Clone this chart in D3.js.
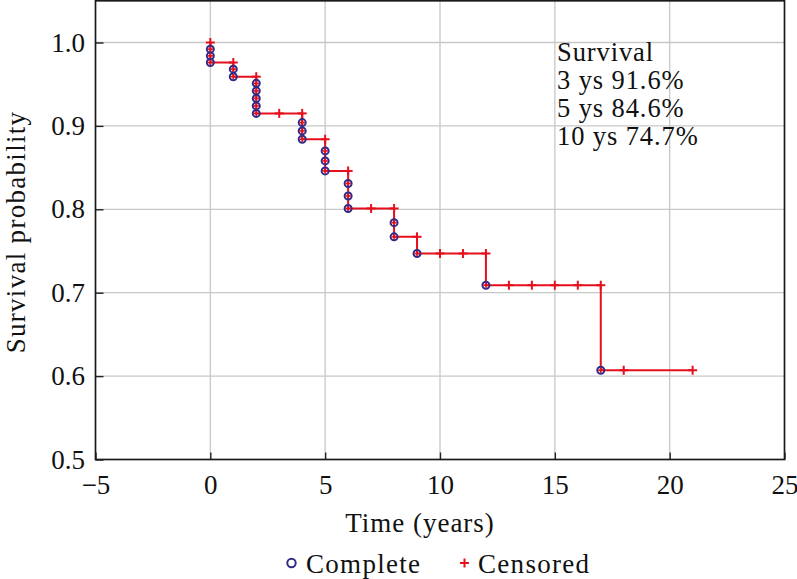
<!DOCTYPE html>
<html>
<head>
<meta charset="utf-8">
<script src="https://cdn.jsdelivr.net/npm/d3@7"></script>
<style>
  body { margin: 0; background: #fff; }
  text { font-family: "Liberation Serif", "Times New Roman", serif; fill: #111; }
</style>
</head>
<body>
<div id="chart"></div>
<script>
// Kaplan-Meier points
const completeTime = [0, 0, 0, 1, 1, 2, 2, 2, 2, 2, 4, 4, 4, 5, 5, 5, 6, 6, 6, 8, 8, 9, 12, 17];
const completeSurv = [0.992, 0.984, 0.976, 0.968, 0.959, 0.951, 0.942, 0.933, 0.924, 0.915,
                      0.904, 0.894, 0.884, 0.870, 0.858, 0.846, 0.831, 0.816, 0.801, 0.784, 0.767,
                      0.747, 0.709, 0.607];
const censoredTime = [0, 1, 2, 3, 4, 5, 6, 7, 8, 9, 10, 11, 12, 13, 14, 15, 16, 17, 18, 21];
const censoredSurv = [1.0, 0.976, 0.959, 0.915, 0.915, 0.884, 0.846, 0.801, 0.801, 0.767,
                      0.747, 0.747, 0.747, 0.709, 0.709, 0.709, 0.709, 0.709, 0.607, 0.607];

const xTicks = [-5, 0, 5, 10, 15, 20, 25];
const yTicks = [0.5, 0.6, 0.7, 0.8, 0.9, 1.0];
const annotationLines = ["Survival", "3 ys 91.6%", "5 ys 84.6%", "10 ys 74.7%"];
const legendLabels = ["Complete", "Censored"];

const width = 797, height = 579;
const plotLeft = 95.5, plotRight = 784.5, plotTop = 0.8, plotBottom = 459.5;
const red = "#e5101c", navy = "#2f2c8a";

const svg = d3.select("#chart").append("svg")
  .attr("width", width)
  .attr("height", height);

const x = d3.scaleLinear().domain([-5, 25]).range([plotLeft, plotRight]);
const y = d3.scaleLinear().domain([0.5, 1.05]).range([plotBottom, plotTop]);

// grid lines
svg.append("g")
  .selectAll("line")
  .data(xTicks.slice(1, -1))
  .join("line")
  .attr("x1", d => x(d)).attr("x2", d => x(d))
  .attr("y1", plotTop).attr("y2", plotBottom)
  .attr("stroke", "#c8c8c8").attr("stroke-width", 1.3);

svg.append("g")
  .selectAll("line")
  .data(yTicks.slice(1))
  .join("line")
  .attr("x1", plotLeft).attr("x2", plotRight)
  .attr("y1", d => y(d)).attr("y2", d => y(d))
  .attr("stroke", "#c8c8c8").attr("stroke-width", 1.3);

// axes (ticks pointing inwards)
const xAxis = svg.append("g")
  .attr("transform", `translate(0,${plotBottom})`)
  .call(d3.axisBottom(x).tickValues(xTicks).tickSizeInner(-7).tickSizeOuter(0).tickPadding(15.5));

const yAxis = svg.append("g")
  .attr("transform", `translate(${plotLeft},0)`)
  .call(d3.axisLeft(y).tickValues(yTicks).tickFormat(d3.format(".1f"))
        .tickSizeInner(-8).tickSizeOuter(0).tickPadding(10.5));

[xAxis, yAxis].forEach(g => {
  g.select(".domain").remove();
  g.selectAll(".tick line").attr("stroke", "#222").attr("stroke-width", 1.4);
  g.selectAll(".tick text").attr("font-size", 27).attr("fill", "#111")
    .style("font-family", "'Liberation Serif', serif");
});

// frame
svg.append("rect")
  .attr("x", plotLeft).attr("y", plotTop)
  .attr("width", plotRight - plotLeft).attr("height", plotBottom - plotTop)
  .attr("fill", "none").attr("stroke", "#1a1a1a").attr("stroke-width", 1.7);

// step curve through all points
const points = completeTime.map((t, i) => [t, completeSurv[i]])
  .concat(censoredTime.map((t, i) => [t, censoredSurv[i]]))
  .sort((a, b) => a[0] - b[0] || b[1] - a[1]);

const line = d3.line()
  .x(d => x(d[0]))
  .y(d => y(d[1]))
  .curve(d3.curveStepAfter);

svg.append("path")
  .datum(points)
  .attr("d", line)
  .attr("fill", "none")
  .attr("stroke", red)
  .attr("stroke-width", 2);

// plus marker helper
function plus(g, cx, cy, s) {
  g.append("line").attr("x1", cx - s).attr("x2", cx + s).attr("y1", cy).attr("y2", cy);
  g.append("line").attr("x1", cx).attr("x2", cx).attr("y1", cy - s).attr("y2", cy + s);
}

// censored marks
const cens = svg.append("g").attr("stroke", red).attr("stroke-width", 2);
censoredTime.forEach((t, i) => plus(cens, x(t), y(censoredSurv[i]), 4.5));

// complete (event) marks
svg.append("g")
  .selectAll("circle")
  .data(completeTime.map((t, i) => [t, completeSurv[i]]))
  .join("circle")
  .attr("cx", d => x(d[0]))
  .attr("cy", d => y(d[1]))
  .attr("r", 3.5)
  .attr("fill", "none")
  .attr("stroke", navy)
  .attr("stroke-width", 2);

const inner = svg.append("g").attr("stroke", red).attr("stroke-width", 1.6);
completeTime.forEach((t, i) => plus(inner, x(t), y(completeSurv[i]), 2.6));

// annotation
svg.append("g")
  .selectAll("text")
  .data(annotationLines)
  .join("text")
  .attr("x", 557)
  .attr("y", (d, i) => 61 + i * 28)
  .attr("font-size", 26.5)
  .attr("letter-spacing", 0.9)
  .text(d => d);

// axis titles
svg.append("text")
  .attr("x", 420).attr("y", 532)
  .attr("text-anchor", "middle")
  .attr("font-size", 27)
  .attr("letter-spacing", 1)
  .text("Time (years)");

svg.append("text")
  .attr("transform", "translate(25,232) rotate(-90)")
  .attr("text-anchor", "middle")
  .attr("font-size", 27)
  .attr("letter-spacing", 1.3)
  .text("Survival probability");

// legend
const legend = svg.append("g");
legend.append("circle")
  .attr("cx", 291.5).attr("cy", 563).attr("r", 4.2)
  .attr("fill", "none").attr("stroke", navy).attr("stroke-width", 2);
legend.append("text")
  .attr("x", 306).attr("y", 573)
  .attr("font-size", 27).attr("letter-spacing", 1.3)
  .text(legendLabels[0]);
const lp = legend.append("g").attr("stroke", red).attr("stroke-width", 2);
plus(lp, 464.5, 563, 4.5);
legend.append("text")
  .attr("x", 478).attr("y", 573)
  .attr("font-size", 27).attr("letter-spacing", 1.3)
  .text(legendLabels[1]);
</script>
</body>
</html>
